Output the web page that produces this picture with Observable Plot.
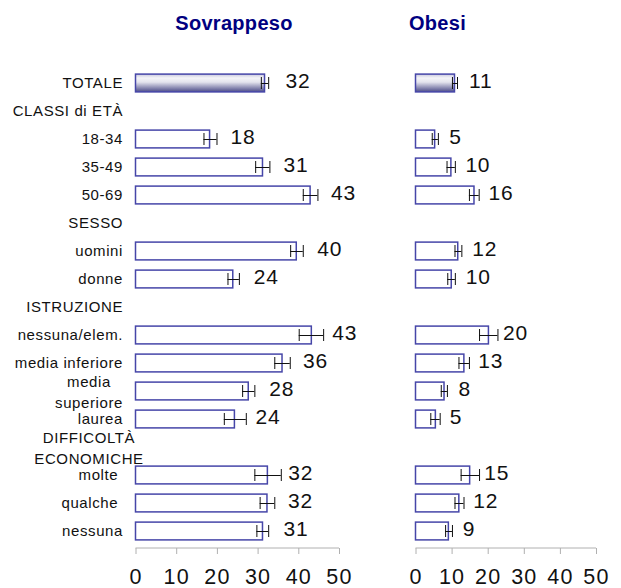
<!DOCTYPE html>
<html><head><meta charset="utf-8">
<script src="https://cdn.jsdelivr.net/npm/d3@7"></script>
<script src="https://cdn.jsdelivr.net/npm/@observablehq/plot@0.6"></script>
<style>
body{margin:0;background:#fff;}
#wrap{position:relative;width:621px;height:588px;font-family:"Liberation Sans",Arial,sans-serif;}
.title{position:absolute;top:13px;font-weight:bold;font-size:20px;line-height:1;color:#000080;transform:translateX(-50%);white-space:nowrap;letter-spacing:0.3px;}
.panel{position:absolute;top:40px;}
.panel svg{font-family:"Liberation Sans",Arial,sans-serif;overflow:visible;}
</style></head><body>
<div id="wrap">
<div class="title" style="left:234px">Sovrappeso</div>
<div class="title" style="left:437.5px">Obesi</div>
<div class="panel" id="left" style="left:0"></div>
<div class="panel" id="right" style="left:380px"></div>
</div>
<script>
const categories = ["TOTALE", "CLASSI di ETÀ", "18-34", "35-49", "50-69", "SESSO", "uomini", "donne",
  "ISTRUZIONE", "nessuna/elem.", "media inferiore", "media superiore", "laurea",
  "DIFFICOLTÀ ECONOMICHE", "molte", "qualche", "nessuna"];
const categoryLabels = ["TOTALE", "CLASSI di ETÀ", "18-34", "35-49", "50-69", "SESSO", "uomini", "donne",
  "ISTRUZIONE", "nessuna/elem.", "media inferiore", "media\nsuperiore", "laurea",
  "DIFFICOLTÀ\nECONOMICHE", "molte\u00a0", "qualche\u00a0", "nessuna"];
const barCategories = ["TOTALE", "18-34", "35-49", "50-69", "uomini", "donne", "nessuna/elem.",
  "media inferiore", "media superiore", "laurea", "molte", "qualche", "nessuna"];

const sovrappeso      = [31.7, 18.2, 31.2, 42.9, 39.5, 23.9, 43.2, 36.0, 27.7, 24.3, 32.4, 32.3, 31.2];
const sovrappesoLow   = [30.8, 16.7, 29.4, 41.1, 38.0, 22.6, 40.1, 34.1, 26.2, 21.7, 29.2, 30.5, 29.7];
const sovrappesoHigh  = [32.6, 19.9, 32.9, 44.7, 41.1, 25.4, 46.1, 37.9, 29.2, 27.1, 35.7, 34.1, 32.6];
const sovrappesoText  = ["32", "18", "31", "43", "40", "24", "43", "36", "28", "24", "32", "32", "31"];

const obesi           = [10.8, 5.3, 9.8, 16.2, 11.7, 9.9, 20.2, 13.4, 7.9, 5.5, 15.0, 12.0, 9.1];
const obesiLow        = [10.1, 4.5, 8.6, 14.8, 10.8, 8.8, 17.6, 11.9, 7.0, 4.1, 12.5, 10.8, 8.2];
const obesiHigh       = [11.5, 6.2, 10.9, 17.5, 12.7, 10.9, 22.7, 14.8, 8.7, 6.7, 17.6, 13.3, 10.1];
const obesiText       = ["11", "5", "10", "16", "12", "10", "20", "13", "8", "5", "15", "12", "9"];

const xTicks = [0, 10, 20, 30, 40, 50];
const xDomain = [0, 50];

const BAR_STROKE = "#4646a8";

function panel(values, low, high, texts, opts) {
  const rows = barCategories.map((c, i) => ({cat: c, v: values[i], lo: low[i], hi: high[i], t: texts[i]}));
  const gid = "grad-" + opts.id;
  const defs = () => {
    const d = d3.create("svg:defs");
    const lg = d.append("linearGradient").attr("id", gid)
      .attr("x1", 0).attr("y1", 0).attr("x2", 0).attr("y2", 1);
    [[0, "#c8c8dc"], [0.22, "#f4f4f8"], [0.45, "#e4e4ee"], [1, "#4c4c88"]].forEach(([o, c]) =>
      lg.append("stop").attr("offset", o).attr("stop-color", c));
    return d.node();
  };
  const axisLine = (index, {x}, values, dims) => {
    const y = dims.height - dims.marginBottom;
    return d3.create("svg:line")
      .attr("x1", x(xDomain[0])).attr("x2", x(xDomain[1]))
      .attr("y1", y).attr("y2", y)
      .attr("stroke", "#b0b0b0").attr("stroke-width", 1).node();
  };
  const inset = 5.1;
  const marks = [
    defs,
    Plot.barX(rows.filter(d => d.cat === "TOTALE"), {x: "v", y: "cat", fill: `url(#${gid})`,
      stroke: BAR_STROKE, strokeWidth: 1.5, insetTop: inset, insetBottom: inset}),
    Plot.barX(rows.filter(d => d.cat !== "TOTALE"), {x: "v", y: "cat", fill: "white",
      stroke: BAR_STROKE, strokeWidth: 1.5, insetTop: inset, insetBottom: inset}),
    Plot.ruleY(rows, {y: "cat", x1: "lo", x2: "hi", stroke: "#111", strokeWidth: 1}),
    Plot.tickX(rows, {x: "lo", y: "cat", stroke: "#111", insetTop: 8, insetBottom: 8}),
    Plot.tickX(rows, {x: "hi", y: "cat", stroke: "#111", insetTop: 8, insetBottom: 8}),
    Plot.text(rows, {x: "v", y: "cat", text: "t", textAnchor: "start", dx: opts.labelDx, dy: -2,
      fontSize: 21, fill: "#111"}),
    axisLine,
    Plot.axisX({ticks: xTicks, tickSize: 6, stroke: "#b0b0b0", tickFormat: () => ""}),
    Plot.axisX({ticks: xTicks, tickSize: 0, tickPadding: 20, fontSize: 21.5, fill: "#111"})
  ];
  if (opts.showLabels) {
    const labelRows = categories.map((c, i) => ({cat: c, label: categoryLabels[i]}));
    marks.push(Plot.text(labelRows.filter(d => !d.label.includes("\n")), {
      y: "cat", text: "label", frameAnchor: "left", textAnchor: "end", dx: -13, fontSize: 15, fill: "#111"}));
    marks.push(Plot.text(labelRows.filter(d => d.label.includes("\n")), {
      y: "cat", text: "label", frameAnchor: "left", textAnchor: "middle", dx: -47, dy: -0.5, lineHeight: 1.36,
      fontSize: 15, fill: "#111"}));
  }
  const svg = Plot.plot({
    width: opts.width,
    height: 548,
    marginLeft: opts.marginLeft,
    marginRight: opts.marginRight,
    marginTop: 26.3,
    marginBottom: 40,
    x: {domain: xDomain, axis: null},
    y: {domain: categories, padding: 0, axis: null},
    marks
  });
  // slightly wider letter spacing, as in the reference's rendering
  svg.querySelectorAll('g[font-size="15"]').forEach(g => g.setAttribute("letter-spacing", "0.6"));
  svg.querySelectorAll('g[font-size="21"]').forEach(g => g.setAttribute("letter-spacing", "0.8"));
  svg.querySelectorAll('g[font-size="21.5"]').forEach(g => g.setAttribute("letter-spacing", "1.2"));
  return svg;
}

document.getElementById("left").append(panel(sovrappeso, sovrappesoLow, sovrappesoHigh, sovrappesoText,
  {id: "l", width: 380, marginLeft: 135.5, marginRight: 41, labelDx: 20.5, showLabels: true}));
document.getElementById("right").append(panel(obesi, obesiLow, obesiHigh, obesiText,
  {id: "r", width: 241, marginLeft: 35.5, marginRight: 25, labelDx: 14, showLabels: false}));
</script>
</body></html>
